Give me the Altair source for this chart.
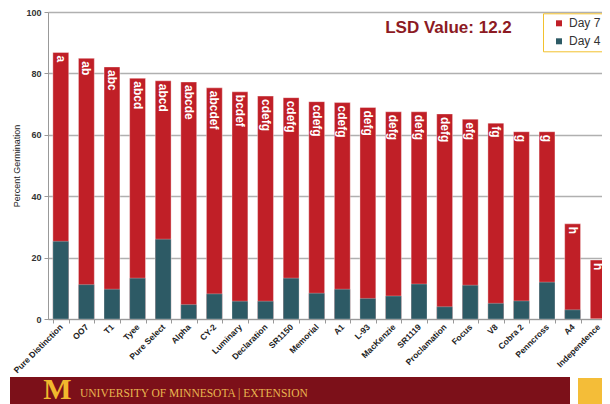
import altair as alt
import pandas as pd

varieties = ["Pure Distinction", "OO7", "T1", "Tyee", "Pure Select", "Alpha", "CY-2",
             "Luminary", "Declaration", "SR1150", "Memorial", "A1", "L-93", "MacKenzie",
             "SR1119", "Proclamation", "Focus", "V8", "Cobra 2", "Penncross", "A4",
             "Independence"]
day7 = [86.8, 84.9, 82.1, 78.4, 77.6, 77.2, 75.3, 74.0, 72.6, 72.1, 70.8, 70.5,
        68.9, 67.5, 67.5, 66.8, 65.1, 63.8, 61.0, 61.0, 31.0, 19.2]
day4 = [25.3, 11.2, 9.7, 13.3, 26.0, 4.7, 8.2, 5.8, 5.8, 13.3, 8.4, 9.7,
        6.7, 7.5, 11.4, 4.0, 11.0, 5.1, 5.9, 12.0, 3.0, 0.0]
groups = ["a", "ab", "abc", "abcd", "abcd", "abcde", "abcdef", "bcdef", "cdefg",
          "cdefg", "cdefg", "cdefg", "defg", "defg", "defg", "defg", "efg", "fg",
          "g", "g", "h", "h"]
series_names = ["Day 7", "Day 4"]
series_colors = ["#c01f27", "#2d5a65"]
y_ticks = [0, 10, 20, 30, 40, 50, 60, 70, 80, 90, 100]

FONT = "Liberation Sans"

df = pd.DataFrame({
    "variety": varieties * 2,
    "series": ["Day 7"] * len(varieties) + ["Day 4"] * len(varieties),
    "value": day7 + day4,
})
lab = pd.DataFrame({"variety": varieties, "value": day7, "group": groups})

x_scale = alt.Scale(paddingInner=0.38, paddingOuter=0.19, range=[0, 563])
x_enc = alt.X(
    "variety:N", sort=varieties, scale=x_scale,
    axis=alt.Axis(title=None, labelAngle=-45, labelAlign="right", labelBaseline="middle",
                  labelFont=FONT, labelFontSize=8.5, labelFontWeight="bold",
                  labelColor="#222222", labelPadding=2, tickBand="extent",
                  tickSize=4, tickColor="#999999", domainColor="#999999", grid=False,
                  labelOverlap=False),
)
y_enc = alt.Y(
    "value:Q",
    scale=alt.Scale(domain=[0, 100], nice=False),
    axis=alt.Axis(values=y_ticks, title="Percent Germination", titleFont=FONT,
                  titleFontSize=9, titleFontWeight="normal", titleColor="#222222",
                  titlePadding=4, labelFont=FONT, labelFontSize=9, labelFontWeight="bold",
                  labelColor="#333333", tickSize=4, tickColor="#999999",
                  domainColor="#999999", gridColor="#b0b0b0", gridWidth=1.3,
                  labelPadding=3),
)
color_enc = alt.Color(
    "series:N",
    scale=alt.Scale(domain=series_names, range=series_colors),
    legend=alt.Legend(title=None, orient="none", legendX=495, legendY=1.3,
                      direction="vertical", strokeColor="#f2c12e", fillColor="white",
                      padding=4, symbolType="square", symbolSize=36,
                      symbolStrokeWidth=0, symbolOffset=6, labelOffset=4,
                      labelFont=FONT, labelFontSize=12, labelColor="#333333",
                      rowPadding=6),
)

base = alt.Chart(df)
red = base.transform_filter(alt.datum.series == "Day 7").mark_bar(
    stroke="#ffffff", strokeOpacity=0.45, strokeWidth=0.8, clip=True
).encode(x=x_enc, y=y_enc, color=color_enc)
teal = base.transform_filter(alt.datum.series == "Day 4").mark_bar(
    stroke="#ffffff", strokeOpacity=0.35, strokeWidth=0.8, clip=True
).encode(x=x_enc, y=y_enc, color=color_enc)

letters = alt.Chart(lab).mark_text(
    angle=90, align="left", baseline="middle", dx=3, color="white",
    font=FONT, fontSize=12, fontWeight="bold", clip=True
).encode(x=alt.X("variety:N", sort=varieties), y=alt.Y("value:Q"), text="group:N")

one = pd.DataFrame({"k": [0]})
title = alt.Chart(one).mark_text(
    text="LSD Value: 12.2", font=FONT, fontSize=17, fontWeight="bold",
    color="#8c1a23", align="center", baseline="middle"
).encode(x=alt.value(400.5), y=alt.value(16.3))

banner = alt.Chart(one).mark_rect(color="#7c1019").encode(
    x=alt.value(-38), x2=alt.value(522), y=alt.value(365), y2=alt.value(402))
yellow = alt.Chart(one).mark_rect(color="#f4bd38").encode(
    x=alt.value(530), x2=alt.value(560), y=alt.value(366), y2=alt.value(402))
logo = alt.Chart(one).mark_text(
    text="M", font="Liberation Serif", fontSize=30, fontWeight="bold",
    color="#f1b82d", align="center", baseline="alphabetic"
).encode(x=alt.value(9.5), y=alt.value(387))
btext = alt.Chart(one).mark_text(
    text="UNIVERSITY OF MINNESOTA | EXTENSION", font="Liberation Serif", fontSize=11.5,
    color="#e9b650", align="left", baseline="alphabetic"
).encode(x=alt.value(32), y=alt.value(385))

chart = alt.layer(red, teal, letters, title, banner, yellow, logo, btext).properties(
    width=554, height=307,
    autosize=alt.AutoSizeParams(type="none"),
    padding={"left": 40, "top": 4, "right": 0, "bottom": 92},
    background="white",
).configure_view(stroke="transparent")

chart.save("out.html", embed_options={"renderer": "svg", "actions": False})
